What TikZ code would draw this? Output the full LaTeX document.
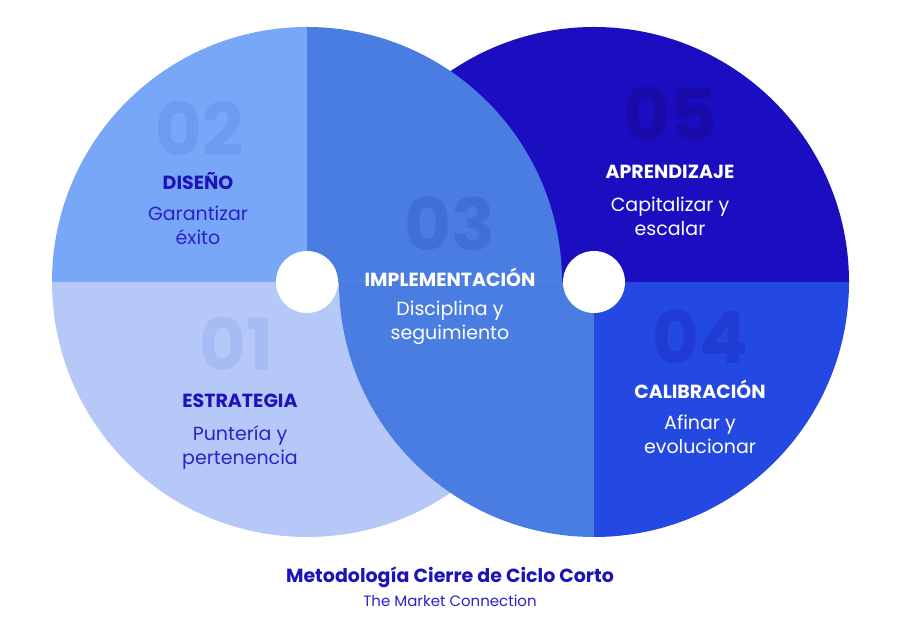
\documentclass[tikz,border=0pt]{standalone}
\usepackage{fontspec}
\setmainfont{Poppins}
\definecolor{cA}{HTML}{B6C8F8}
\definecolor{cB}{HTML}{78A7F8}
\definecolor{cC}{HTML}{4A7DE2}
\definecolor{cD}{HTML}{2448E2}
\definecolor{cE}{HTML}{1B0EC0}
\definecolor{nA}{HTML}{A6BCF5}
\definecolor{nB}{HTML}{6B9CF2}
\definecolor{nC}{HTML}{416FD8}
\definecolor{nD}{HTML}{1F3BD2}
\definecolor{nE}{HTML}{1A0AAA}
\definecolor{darkt}{HTML}{1E12B8}
\definecolor{midt}{HTML}{2A22C8}
\tikzset{
  bignum/.style={font=\fontsize{72}{72}\selectfont\bfseries, inner sep=0pt},
  head/.style={font=\fontsize{19}{22}\selectfont\bfseries, inner sep=1pt},
  sub/.style={font=\fontsize{19}{24}\selectfont, align=center, inner sep=1pt},
}
\begin{document}
\begin{tikzpicture}[x=1pt,y=1pt]
\useasboundingbox (0,0) rectangle (900,634);
\fill[white] (0,0) rectangle (900,634);
\coordinate (L) at (307,352);
\coordinate (R) at (594,352);
% right circle top half
\fill[cE] ([xshift=-255pt]R) arc[start angle=180,end angle=0,radius=255pt] -- cycle;
% left circle
\fill[cB] (L) -- ([xshift=-255pt]L) arc[start angle=180,end angle=90,radius=255pt] -- cycle;
\fill[cC] (L) -- ([yshift=255pt]L) arc[start angle=90,end angle=0,radius=255pt] -- cycle;
\fill[cA] ([xshift=-255pt]L) arc[start angle=180,end angle=360,radius=255pt] -- cycle;
% right circle bottom half
\fill[cC] (R) -- ([xshift=-255pt]R) arc[start angle=180,end angle=270,radius=255pt] -- cycle;
\fill[cD] (R) -- ([yshift=-255pt]R) arc[start angle=270,end angle=360,radius=255pt] -- cycle;
% holes
\fill[white] (L) circle[radius=31pt];
\fill[white] (R) circle[radius=31pt];
% 02
\node[bignum, text=nB] (n2) at (200,505) {02};
\node[head, text=darkt] (h2) at (198,453) {DISEÑO};
\node[sub, text=midt] (s2) at (198,409) {Garantizar\\éxito};
% 01
\node[bignum, text=nA] (n1) at (237,290) {01};
\node[head, text=darkt] (h1) at (240,233) {ESTRATEGIA};
\node[sub, text=midt] (s1) at (240,186) {Puntería y\\pertenencia};
% 03
\node[bignum, text=nC] (n3) at (450,410) {03};
\node[head, text=white] (h3) at (450,357) {IMPLEMENTACIÓN};
\node[sub, text=white] (s3) at (450,311) {Disciplina y\\seguimiento};
% 05
\node[bignum, text=nE] (n5) at (670,520) {05};
\node[head, text=white] (h5) at (670,462) {APRENDIZAJE};
\node[sub, text=white] (s5) at (670,418) {Capitalizar y\\escalar};
% 04
\node[bignum, text=nD] (n4) at (700,297) {04};
\node[head, text=white] (h4) at (700,245) {CALIBRACIÓN};
\node[sub, text=white] (s4) at (700,200) {Afinar y\\evolucionar};
% title
\node[font=\fontsize{19}{22}\selectfont\bfseries, text=darkt] (title) at (450,57) {Metodología Cierre de Ciclo Corto};
\node[font=\fontsize{15}{18}\selectfont, text=midt] (subtitle) at (450,33) {The Market Connection};
\end{tikzpicture}
\end{document}
